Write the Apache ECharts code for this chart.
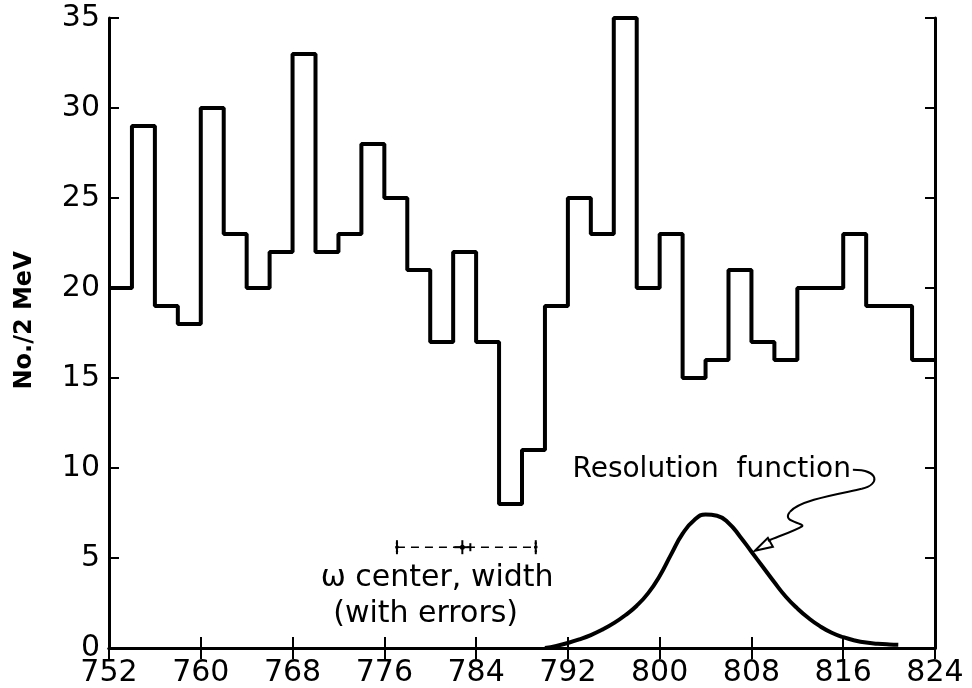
<!DOCTYPE html>
<html>
<head>
<meta charset="utf-8">
<script src="https://cdn.jsdelivr.net/npm/echarts@6/dist/echarts.min.js"></script>
<style>
html, body { margin: 0; padding: 0; background: #fff; }
#main { width: 972px; height: 688px; }
</style>
</head>
<body>
<div id="main"></div>
<script>
// bin left edges (MeV), 2 MeV wide
var binEdges = [752, 754, 756, 758, 760, 762, 764, 766, 768, 770, 772, 774,
                776, 778, 780, 782, 784, 786, 788, 790, 792, 794, 796, 798,
                800, 802, 804, 806, 808, 810, 812, 814, 816, 818, 820, 822];
var binEnd = 824;
var counts = [20, 29, 19, 18, 30, 23, 20, 22, 33, 22, 23, 28,
              25, 21, 17, 22, 17, 8, 11, 19, 25, 23, 35, 20,
              23, 15, 16, 21, 17, 16, 20, 20, 23, 19, 19, 16];

// resolution function
var resX = [790, 791, 792, 793, 794, 795, 796, 797, 798, 799, 800, 801, 802, 803, 804, 805,
            806, 807, 808, 809, 810, 811, 812, 813, 814, 815, 816, 817, 818, 819, 820, 820.8];
var resY = [0, 0.12, 0.28, 0.48, 0.72, 1.02, 1.38, 1.82, 2.35, 3.05, 4.0, 5.2, 6.35, 7.1, 7.42, 7.35,
            6.95, 6.2, 5.35, 4.5, 3.65, 2.85, 2.2, 1.65, 1.2, 0.85, 0.6, 0.42, 0.3, 0.24, 0.2, 0.18];

// omega center and width marks
var omegaMarks = [777.1, 782.8, 789.2];
var omegaLevel = 5.6;

var font = 'DejaVu Sans';

var histData = [];
for (var i = 0; i < binEdges.length; i++) {
    histData.push([binEdges[i], counts[i]]);
}
histData.push([binEnd, counts[counts.length - 1]]);

var resData = [];
for (var j = 0; j < resX.length; j++) {
    resData.push([resX[j], resY[j]]);
}

var omegaData = [];
for (var k = 0; k < omegaMarks.length; k++) {
    omegaData.push([omegaMarks[k], omegaLevel, k]);
}

var chart = echarts.init(document.getElementById('main'));

var axisLine = { show: true, lineStyle: { color: '#000', width: 3 } };

chart.setOption({
    animation: false,
    backgroundColor: '#fff',
    grid: { left: 109, right: 37, top: 18, bottom: 40 },
    xAxis: [{
        type: 'value', min: 752, max: 824, interval: 8,
        axisLine: axisLine,
        axisTick: { inside: true, length: 11, lineStyle: { color: '#000', width: 2 } },
        axisLabel: { color: '#000', fontFamily: font, fontSize: 30, margin: 10 },
        splitLine: { show: false }
    }, {
        type: 'value', min: 752, max: 824, interval: 8, position: 'top',
        axisLine: axisLine,
        axisTick: { inside: true, length: 11, lineStyle: { color: '#000', width: 2 } },
        axisLabel: { show: false },
        splitLine: { show: false }
    }],
    yAxis: [{
        type: 'value', min: 0, max: 35, interval: 5,
        axisLine: axisLine,
        axisTick: { inside: true, length: 10, lineStyle: { color: '#000', width: 2 } },
        axisLabel: { color: '#000', fontFamily: font, fontSize: 30, margin: 9 },
        splitLine: { show: false }
    }, {
        type: 'value', min: 0, max: 35, interval: 5, position: 'right',
        axisLine: axisLine,
        axisTick: { inside: true, length: 10, lineStyle: { color: '#000', width: 2 } },
        axisLabel: { show: false },
        splitLine: { show: false }
    }],
    series: [{
        type: 'line',
        data: histData,
        step: 'end',
        symbol: 'none',
        clip: false,
        lineStyle: { color: '#000', width: 4 }
    }, {
        type: 'line',
        data: resData,
        smooth: 0.5,
        symbol: 'none',
        lineStyle: { color: '#000', width: 4 }
    }, {
        type: 'line',
        data: [[omegaMarks[0], omegaLevel], [omegaMarks[2], omegaLevel]],
        symbol: 'none',
        lineStyle: { color: '#000', width: 1.5, type: [8, 6] }
    }, {
        type: 'custom',
        data: omegaData,
        renderItem: function (params, api) {
            var p = api.coord([api.value(0), api.value(1)]);
            var idx = api.value(2);
            var st = { stroke: '#000', lineWidth: 2, fill: 'none' };
            var kids = [{
                type: 'line', shape: { x1: p[0], y1: p[1] - 7, x2: p[0], y2: p[1] + 7 }, style: st
            }];
            if (idx === 1) {
                kids.push({ type: 'line', shape: { x1: p[0] - 8, y1: p[1], x2: p[0] + 8, y2: p[1] }, style: st });
                kids.push({ type: 'line', shape: { x1: p[0] + 8, y1: p[1] - 4, x2: p[0] + 8, y2: p[1] + 4 }, style: st });
                kids.push({ type: 'circle', shape: { cx: p[0], cy: p[1], r: 2.5 }, style: { fill: '#000' } });
            } else {
                var ds = { stroke: '#000', lineWidth: 1.5, fill: 'none', lineDash: [2, 2] };
                kids.push({ type: 'arc', shape: { cx: p[0] + 6, cy: p[1], r: 7, startAngle: 2.4, endAngle: 3.9 }, style: ds });
                kids.push({ type: 'arc', shape: { cx: p[0] - 6, cy: p[1], r: 7, startAngle: -0.75, endAngle: 0.75 }, style: ds });
            }
            return { type: 'group', children: kids };
        }
    }]
});

// annotations placed from data coordinates
function px(x, y) { return chart.convertToPixel({ xAxisIndex: 0, yAxisIndex: 0 }, [x, y]); }
var tip = px(808.3, 5.4);
var resLabel = px(792.4, 9.9);
var omegaLabel1 = px(780.6, 3.85);
var omegaLabel2 = px(779.6, 1.85);
var yName = px(752, 18.2);

// squiggly pointer, offsets from the arrow tip
var squiggle = [
    [98, -81, 125, -81, 125, -66, 107, -62],
    [107, -62, 85, -57, 45, -51, 35, -39],
    [35, -39, 27, -29, 45, -29, 48, -25],
    [48, -25, 40, -20, 25, -15, 13, -10]
];
var graphics = [{
    type: 'text', x: yName[0] - 84, y: yName[1], rotation: Math.PI / 2,
    style: { text: 'No./2 MeV', fill: '#000', font: 'bold 24px "DejaVu Sans"', align: 'center', verticalAlign: 'middle' }
}, {
    type: 'text', x: resLabel[0], y: resLabel[1],
    style: { text: 'Resolution  function', fill: '#000', font: '28px "DejaVu Sans"', verticalAlign: 'middle' }
}, {
    type: 'text', x: omegaLabel1[0], y: omegaLabel1[1],
    style: { text: 'ω center, width', fill: '#000', font: '30px "DejaVu Sans"', align: 'center', verticalAlign: 'middle' }
}, {
    type: 'text', x: omegaLabel2[0], y: omegaLabel2[1],
    style: { text: '(with errors)', fill: '#000', font: '30px "DejaVu Sans"', align: 'center', verticalAlign: 'middle' }
}, {
    type: 'polygon', x: tip[0], y: tip[1],
    shape: { points: [[0, 0], [13, -13], [18, -4]] },
    style: { stroke: '#000', lineWidth: 2, fill: '#fff' }
}];
for (var s = 0; s < squiggle.length; s++) {
    var c = squiggle[s];
    graphics.push({
        type: 'bezierCurve', x: tip[0], y: tip[1],
        shape: { x1: c[0], y1: c[1], cpx1: c[2], cpy1: c[3], cpx2: c[4], cpy2: c[5], x2: c[6], y2: c[7] },
        style: { stroke: '#000', lineWidth: 2, fill: 'none' }
    });
}
chart.setOption({ graphic: graphics });
</script>
</body>
</html>
